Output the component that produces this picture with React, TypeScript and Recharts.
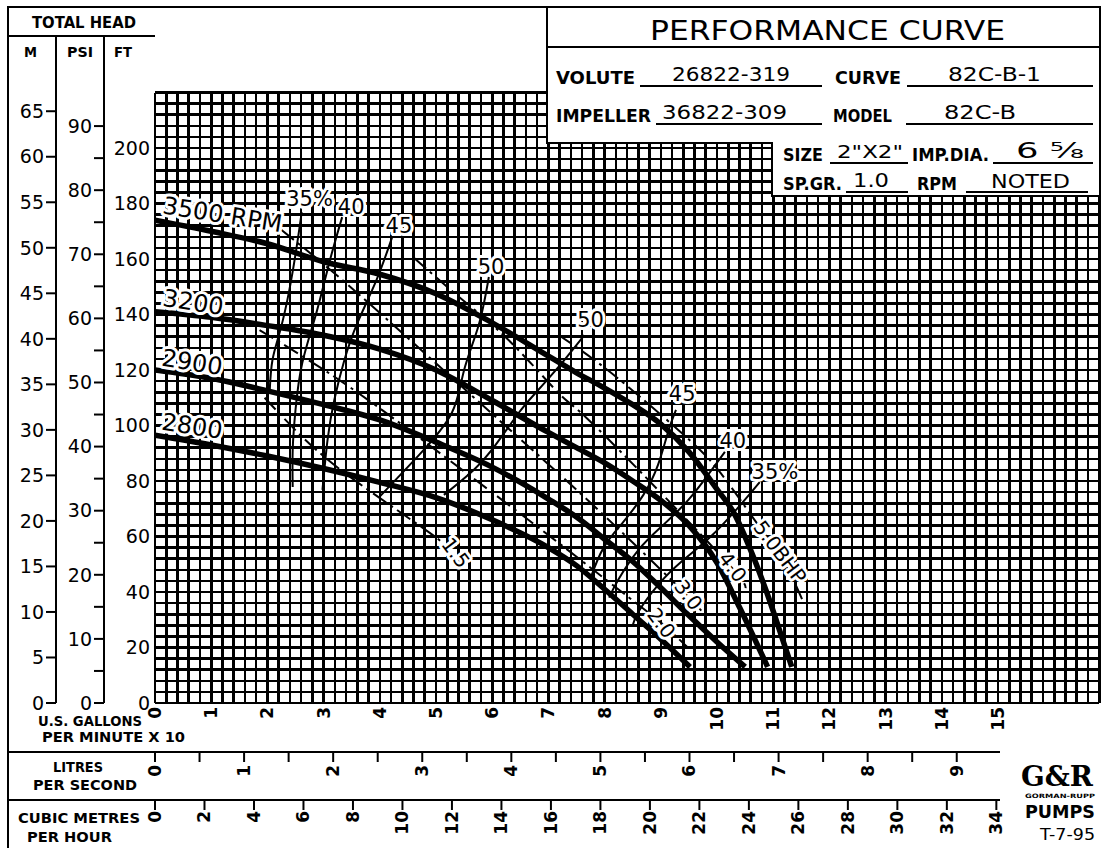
import React from "react";
import { CartesianGrid, ComposedChart, Line, Scatter, XAxis, YAxis } from "recharts";

const FONT = "'DejaVu Sans', 'Liberation Sans', sans-serif";

// flow = U.S. gallons per minute x 10, head = feet
const q3500 = [0, 1, 2, 3, 4, 5, 6, 7, 7.5, 8, 8.5, 9, 9.5, 10, 10.3, 10.6, 10.9, 11.1, 11.33];
const h3500 = [174, 170, 165.5, 159, 154.5, 147.5, 137, 125, 119, 113.5, 107.5, 100.5, 90.5, 77, 68.5, 55, 39, 27, 13];
const q3200 = [0, 1, 2, 3, 4, 5, 6, 7, 7.5, 8, 8.5, 9, 9.5, 10, 10.4, 10.9];
const h3200 = [141, 139, 136, 132.5, 127.5, 120, 109, 97.5, 92, 86.5, 80, 73, 64, 50.5, 34.5, 13];
const q2900 = [0, 1, 2, 3, 4, 5, 6, 7, 7.5, 8, 8.5, 9, 9.5, 10, 10.5];
const h2900 = [120, 117, 112.5, 107.5, 102, 94, 85, 73.5, 67, 59, 51, 41.5, 31.5, 22, 13];
const q2800 = [0, 1, 2, 3, 4, 5, 6, 7, 7.5, 8, 8.5, 9, 9.52];
const h2800 = [96.5, 93, 89, 84.5, 79.5, 74, 66, 56, 49.5, 41, 32, 23, 13];

// efficiency lines (left and right branches)
const qE35L = [2.61, 2.52, 2.39, 2.23, 2.09, 2.04];
const hE35L = [176.9, 164.3, 148.8, 134.4, 123.6, 112.1];
const qE40L = [3.33, 3.1, 2.87, 2.62, 2.5, 2.45, 2.45];
const hE40L = [175.1, 158.6, 140.5, 122.5, 105.6, 91.2, 77.8];
const qE45L = [4.22, 3.94, 3.6, 3.37, 3.19, 3.07, 2.98];
const hE45L = [167.9, 152.4, 136.9, 123.6, 109.2, 94.8, 76.8];
const qE50L = [5.94, 5.76, 5.5, 5.28, 4.7, 3.99];
const hE50L = [153.5, 136.2, 120, 104.5, 89.4, 74.2];
const qE50R = [7.64, 7.18, 6.77, 6.47, 6.06, 5.67, 5.14];
const hE50R = [132.6, 121.1, 111.7, 104.5, 93, 84, 75];
const qE45R = [9.27, 9.13, 8.95, 8.69, 8.33, 7.98, 7.75];
const hE45R = [105.6, 97.7, 85.8, 75, 65.2, 55.9, 45];
const qE40R = [10.14, 9.84, 9.49, 9.04, 8.6, 8.24, 8.08];
const hE40R = [90.5, 82.2, 73.2, 64.1, 55.1, 44.3, 38];
const qE35R = [10.76, 10.37, 9.88, 9.4, 8.95, 8.6, 8.5];
const hE35R = [79.6, 70.3, 59.8, 51.5, 42.5, 32.8, 28];

// brake horsepower lines
const qB15 = [1.95, 2.87, 3.87, 4.82, 5.1];
const hB15 = [110, 91.2, 75.7, 62.3, 58];
const qB20 = [1.86, 3.46, 5.23, 7.0, 8.42, 9.01, 9.49];
const hB20 = [134.4, 113.9, 87.6, 60.5, 38.2, 28.8, 19.8];
const qB30 = [2.25, 3.23, 4.4, 6.12, 7.89, 9.49, 9.75];
const hB30 = [170.5, 154.2, 133.3, 102, 69.5, 38.2, 31.7];
const qB40 = [4.61, 5.41, 6.29, 7.18, 7.66, 8.95, 10.25, 10.51];
const hB40 = [160.4, 146.3, 130.8, 111.7, 103.1, 76.8, 49, 41.4];
const qB50 = [7.18, 8.12, 9.31, 10.02, 10.67, 11.17, 11.52];
const hB50 = [132.6, 118.9, 98.4, 84, 65.9, 51.5, 37.1];

const rpmLabels = [
  { q: 1.2, h: 175.9, text: "3500 RPM" },
  { q: 0.68, h: 144.3, text: "3200" },
  { q: 0.66, h: 122.7, text: "2900" },
  { q: 0.66, h: 99.7, text: "2800" },
];
const effLabels = [
  { q: 2.75, h: 181.6, text: "35%" },
  { q: 3.49, h: 178.7, text: "40" },
  { q: 4.34, h: 171.9, text: "45" },
  { q: 5.98, h: 157.1, text: "50" },
  { q: 7.75, h: 138, text: "50" },
  { q: 9.38, h: 111.4, text: "45" },
  { q: 10.28, h: 94.4, text: "40" },
  { q: 11.03, h: 83.2, text: "35%" },
];
const bhpLabels = [
  { q: 5.35, h: 54.1, text: "1.5" },
  { q: 9.01, h: 28.8, text: "2.0" },
  { q: 9.49, h: 38.9, text: "3.0" },
  { q: 10.28, h: 49, text: "4.0" },
  { q: 11.12, h: 54.4, text: "5.0BHP" },
];

const ftTicks = [0, 20, 40, 60, 80, 100, 120, 140, 160, 180, 200];
const psiTicks = [0, 5, 10, 15, 20, 25, 30, 35, 40, 45, 50, 55, 60, 65, 70, 75, 80, 85, 90];
const mTicks = [0, 5, 10, 15, 20, 25, 30, 35, 40, 45, 50, 55, 60, 65];
const gpmTicks = [0, 1, 2, 3, 4, 5, 6, 7, 8, 9, 10, 11, 12, 13, 14, 15];
const lpsTicks = [0, 0.5, 1, 1.5, 2, 2.5, 3, 3.5, 4, 4.5, 5, 5.5, 6, 6.5, 7, 7.5, 8, 8.5, 9];
const cmhTicks = [0, 2, 4, 6, 8, 10, 12, 14, 16, 18, 20, 22, 24, 26, 28, 30, 32, 34];

const FT_MAX = 220;
const Q_MAX = 16.8;
const FT_PER_PSI = 2.31;
const FT_PER_M = 3.2808;
const GPM_PER_LPS = 15.8503;
const GPM_PER_CMH = 4.4029;

const pts = (q: number[], h: number[]) => q.map((v, i) => ({ q: v, h: h[i] }));

const headCurves = [
  { id: "3500", data: pts(q3500, h3500) },
  { id: "3200", data: pts(q3200, h3200) },
  { id: "2900", data: pts(q2900, h2900) },
  { id: "2800", data: pts(q2800, h2800) },
];
const effCurves = [
  { id: "e35l", data: pts(qE35L, hE35L) },
  { id: "e40l", data: pts(qE40L, hE40L) },
  { id: "e45l", data: pts(qE45L, hE45L) },
  { id: "e50l", data: pts(qE50L, hE50L) },
  { id: "e50r", data: pts(qE50R, hE50R) },
  { id: "e45r", data: pts(qE45R, hE45R) },
  { id: "e40r", data: pts(qE40R, hE40R) },
  { id: "e35r", data: pts(qE35R, hE35R) },
];
const bhpCurves = [
  { id: "b15", data: pts(qB15, hB15) },
  { id: "b20", data: pts(qB20, hB20) },
  { id: "b30", data: pts(qB30, hB30) },
  { id: "b40", data: pts(qB40, hB40) },
  { id: "b50", data: pts(qB50, hB50) },
];

// keeps the secondary flow axes bound to something
const lpsSpan = [{ q: 0, h: 0 }, { q: 9, h: 0 }];
const cmhSpan = [{ q: 0, h: 0 }, { q: 34, h: 0 }];

const gridFt = Array.from({ length: FT_MAX / 4 + 1 }, (_, i) => i * 4);
const gridQ = Array.from({ length: Math.round(Q_MAX / 0.2) + 1 }, (_, i) => Math.round(i * 2) / 10);

const labelShape = (angle: number, size: number) => (p: any) => (
  <text
    x={p.cx}
    y={p.cy}
    transform={`rotate(${angle} ${p.cx} ${p.cy})`}
    textAnchor="middle"
    dominantBaseline="central"
    fontSize={size}
    fontFamily={FONT}
    fill="#000"
    stroke="#fff"
    strokeWidth={6}
    strokeLinejoin="round"
    paintOrder="stroke"
  >
    {p.payload.text}
  </text>
);

const rotTick = (show: (v: number) => boolean) => (p: any) => {
  const v = p.payload.value;
  if (!show(v)) return <g />;
  return (
    <text
      x={p.x}
      y={p.y}
      transform={`rotate(-90 ${p.x} ${p.y})`}
      textAnchor="end"
      dominantBaseline="central"
      fontSize={17}
      fontWeight="bold"
      fontFamily={FONT}
      fill="#000"
    >
      {String(v)}
    </text>
  );
};

const axisTick = { fill: "#000", fontSize: 19, fontFamily: FONT };
const tickStroke = { stroke: "#000", strokeWidth: 2 };

function Frame() {
  const T = (props: any) => <text fontFamily={FONT} fill="#000" lengthAdjust="spacingAndGlyphs" {...props} />;
  const B = (props: any) => <T fontWeight="bold" {...props} />;
  return (
    <svg width={1101} height={848} style={{ position: "absolute", left: 0, top: 0, pointerEvents: "none" }}>
      <g stroke="#000" strokeWidth={2} fill="none">
        <line x1={8} y1={7} x2={547} y2={7} />
        <line x1={8} y1={6} x2={8} y2={848} />
        <line x1={8} y1={36} x2={155} y2={36} />
        <line x1={56} y1={36} x2={56} y2={703} />
        <line x1={104} y1={36} x2={104} y2={703} />
        <line x1={8} y1={752} x2={1000} y2={752} />
        <line x1={8} y1={800} x2={1000} y2={800} />
      </g>
      <B x={32} y={28} fontSize={15} textLength={104}>TOTAL HEAD</B>
      <B x={24} y={57} fontSize={14} textLength={13}>M</B>
      <B x={67} y={57} fontSize={14} textLength={26}>PSI</B>
      <B x={114} y={57} fontSize={14} textLength={18}>FT</B>

      <B x={38} y={726} fontSize={14} textLength={104}>U.S. GALLONS</B>
      <B x={42} y={742} fontSize={14} textLength={143}>PER MINUTE X 10</B>
      <B x={53} y={772} fontSize={14} textLength={50}>LITRES</B>
      <B x={33} y={790} fontSize={14} textLength={104}>PER SECOND</B>
      <B x={18} y={823} fontSize={14} textLength={122}>CUBIC METRES</B>
      <B x={27} y={842} fontSize={14} textLength={85}>PER HOUR</B>

      <polygon points="547,7 1100,7 1100,196 772,196 772,143 547,143" fill="#fff" stroke="#000" strokeWidth={2} />
      <line x1={547} y1={47} x2={1100} y2={47} stroke="#000" strokeWidth={2} />
      <T x={650} y={40} fontSize={27} textLength={355}>PERFORMANCE CURVE</T>

      <g stroke="#000" strokeWidth={2}>
        <line x1={640} y1={86} x2={822} y2={86} />
        <line x1={907} y1={86} x2={1093} y2={86} />
        <line x1={656} y1={124} x2={822} y2={124} />
        <line x1={906} y1={124} x2={1093} y2={124} />
        <line x1={830} y1={163} x2={908} y2={163} />
        <line x1={993} y1={163} x2={1093} y2={163} />
        <line x1={846} y1={192} x2={908} y2={192} />
        <line x1={966} y1={192} x2={1088} y2={192} />
      </g>
      <B x={556} y={84} fontSize={17} textLength={79}>VOLUTE</B>
      <T x={672} y={81} fontSize={20} textLength={118}>26822-319</T>
      <B x={835} y={84} fontSize={17} textLength={66}>CURVE</B>
      <T x={948} y={81} fontSize={20} textLength={93}>82C-B-1</T>
      <B x={556} y={122} fontSize={17} textLength={95}>IMPELLER</B>
      <T x={662} y={119} fontSize={20} textLength={125}>36822-309</T>
      <B x={833} y={122} fontSize={17} textLength={59}>MODEL</B>
      <T x={944} y={119} fontSize={20} textLength={72}>82C-B</T>
      <B x={783} y={161} fontSize={17} textLength={40}>SIZE</B>
      <T x={837} y={158} fontSize={18} textLength={66}>2"X2"</T>
      <B x={912} y={161} fontSize={17} textLength={77}>IMP.DIA.</B>
      <T x={1016} y={158} fontSize={21} textLength={68}>6 ⅝</T>
      <B x={783} y={190} fontSize={17} textLength={59}>SP.GR.</B>
      <T x={853} y={187} fontSize={19} textLength={36}>1.0</T>
      <B x={917} y={190} fontSize={17} textLength={40}>RPM</B>
      <T x={991} y={188} fontSize={20} textLength={79}>NOTED</T>

      <T x={1021} y={786} fontSize={28} fontWeight="bold" fontFamily="'DejaVu Serif', serif" textLength={72}>G&amp;R</T>
      <B x={1025} y={798} fontSize={6} textLength={70}>GORMAN-RUPP</B>
      <B x={1025} y={818} fontSize={17} textLength={70}>PUMPS</B>
      <T x={1040} y={840} fontSize={15} textLength={55}>T-7-95</T>
    </svg>
  );
}

export default function App() {
  return (
    <div style={{ position: "relative", width: 1101, height: 848, background: "#fff" }}>
      <style>{"body{margin:0}"}</style>
      <ComposedChart width={1101} height={848} margin={{ top: 92.5, right: 1.8, bottom: 0, left: 8 }}>
        <XAxis
          xAxisId="x1"
          dataKey="q"
          type="number"
          domain={[0, Q_MAX]}
          ticks={gpmTicks}
          interval={0}
          allowDataOverflow
          height={49}
          axisLine={false}
          tickLine={false}
          tickSize={4}
          tickMargin={0}
          tick={rotTick(() => true)}
        />
        <XAxis
          xAxisId="x2"
          dataKey="q"
          type="number"
          domain={[0, (Q_MAX * 10) / GPM_PER_LPS]}
          ticks={lpsTicks}
          interval={0}
          allowDataOverflow
          height={48}
          axisLine={false}
          tickLine={tickStroke}
          tickSize={10}
          tickMargin={3}
          tick={rotTick((v) => Number.isInteger(v))}
        />
        <XAxis
          xAxisId="x3"
          dataKey="q"
          type="number"
          domain={[0, (Q_MAX * 10) / GPM_PER_CMH]}
          ticks={cmhTicks}
          interval={0}
          allowDataOverflow
          height={48}
          axisLine={false}
          tickLine={tickStroke}
          tickSize={10}
          tickMargin={1}
          tick={rotTick(() => true)}
        />
        <YAxis
          yAxisId="y1"
          dataKey="h"
          type="number"
          domain={[0, FT_MAX]}
          ticks={ftTicks}
          interval={0}
          allowDataOverflow
          width={51}
          axisLine={false}
          tickLine={false}
          tickSize={4}
          tickMargin={1}
          tick={axisTick}
        />
        <YAxis
          yAxisId="y2"
          type="number"
          domain={[0, FT_MAX / FT_PER_PSI]}
          ticks={psiTicks}
          interval={0}
          allowDataOverflow
          width={48}
          axisLine={false}
          tickLine={tickStroke}
          tickSize={10}
          tickMargin={2}
          tick={axisTick}
          tickFormatter={(v: number) => (v % 10 === 0 ? String(v) : "")}
        />
        <YAxis
          yAxisId="y3"
          type="number"
          domain={[0, FT_MAX / FT_PER_M]}
          ticks={mTicks}
          interval={0}
          allowDataOverflow
          width={48}
          axisLine={false}
          tickLine={tickStroke}
          tickSize={10}
          tickMargin={2}
          tick={axisTick}
        />
        <CartesianGrid
          xAxisId="x1"
          yAxisId="y1"
          horizontalValues={gridFt}
          verticalValues={gridQ}
          stroke="#000"
          strokeWidth={2.6}
          shapeRendering="crispEdges"
        />
        <Line data={lpsSpan} dataKey="h" xAxisId="x2" yAxisId="y1" stroke="none" dot={false} isAnimationActive={false} />
        <Line data={cmhSpan} dataKey="h" xAxisId="x3" yAxisId="y1" stroke="none" dot={false} isAnimationActive={false} />
        {effCurves.map((c) => (
          <Line
            key={c.id}
            data={c.data}
            dataKey="h"
            xAxisId="x1"
            yAxisId="y1"
            type="natural"
            stroke="#000"
            strokeWidth={2}
            dot={false}
            isAnimationActive={false}
          />
        ))}
        {bhpCurves.map((c) => (
          <Line
            key={c.id}
            data={c.data}
            dataKey="h"
            xAxisId="x1"
            yAxisId="y1"
            type="natural"
            stroke="#000"
            strokeWidth={2}
            strokeDasharray="16 5 3 5"
            dot={false}
            isAnimationActive={false}
          />
        ))}
        {headCurves.map((c) => (
          <Line
            key={c.id}
            data={c.data}
            dataKey="h"
            xAxisId="x1"
            yAxisId="y1"
            type="monotone"
            stroke="#000"
            strokeWidth={5.5}
            dot={false}
            isAnimationActive={false}
          />
        ))}
        <Scatter data={rpmLabels} xAxisId="x1" yAxisId="y1" shape={labelShape(9, 24)} isAnimationActive={false} />
        <Scatter data={effLabels} xAxisId="x1" yAxisId="y1" shape={labelShape(0, 21)} isAnimationActive={false} />
        <Scatter data={bhpLabels} xAxisId="x1" yAxisId="y1" shape={labelShape(53, 20)} isAnimationActive={false} />
      </ComposedChart>
      <Frame />
    </div>
  );
}
